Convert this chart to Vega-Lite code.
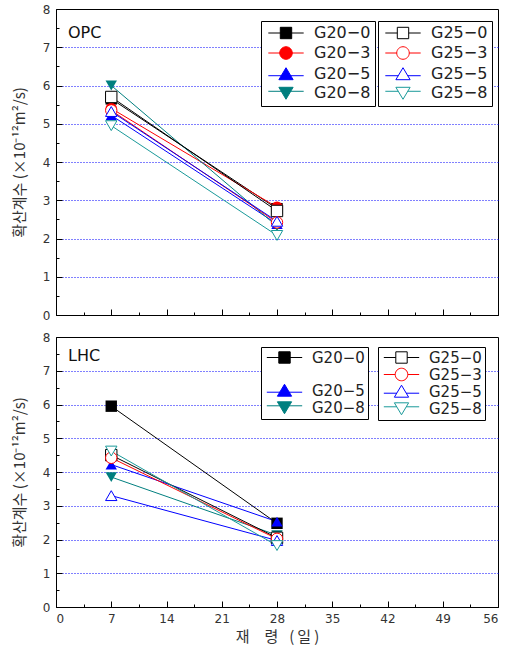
{
  "$schema": "https://vega.github.io/schema/vega-lite/v6.json",
  "background": "white",
  "padding": {"left": 11, "top": 2, "right": 5, "bottom": 4},
  "spacing": 8,
  "datasets": {
    "opc": [
      {"series": "G20-0", "day": 7, "value": 5.65}, {"series": "G20-0", "day": 28, "value": 2.78},
      {"series": "G20-3", "day": 7, "value": 5.4}, {"series": "G20-3", "day": 28, "value": 2.82},
      {"series": "G20-5", "day": 7, "value": 5.22}, {"series": "G20-5", "day": 28, "value": 2.38},
      {"series": "G20-8", "day": 7, "value": 6.0}, {"series": "G20-8", "day": 28, "value": 2.32},
      {"series": "G25-0", "day": 7, "value": 5.7}, {"series": "G25-0", "day": 28, "value": 2.72},
      {"series": "G25-3", "day": 7, "value": 5.35}, {"series": "G25-3", "day": 28, "value": 2.42},
      {"series": "G25-5", "day": 7, "value": 5.32}, {"series": "G25-5", "day": 28, "value": 2.45},
      {"series": "G25-8", "day": 7, "value": 4.95}, {"series": "G25-8", "day": 28, "value": 2.08}
    ],
    "lhc": [
      {"series": "G20-0", "day": 7, "value": 5.95}, {"series": "G20-0", "day": 28, "value": 2.48},
      {"series": "G20-5", "day": 7, "value": 4.22}, {"series": "G20-5", "day": 28, "value": 2.53},
      {"series": "G20-8", "day": 7, "value": 3.85}, {"series": "G20-8", "day": 28, "value": 2.13},
      {"series": "G25-0", "day": 7, "value": 4.5}, {"series": "G25-0", "day": 28, "value": 2.05},
      {"series": "G25-3", "day": 7, "value": 4.42}, {"series": "G25-3", "day": 28, "value": 2.02},
      {"series": "G25-5", "day": 7, "value": 3.3}, {"series": "G25-5", "day": 28, "value": 1.97},
      {"series": "G25-8", "day": 7, "value": 4.62}, {"series": "G25-8", "day": 28, "value": 1.82}
    ]
  },
  "vconcat": [
    {
      "width": 442,
      "height": 306,
      "data": {"name": "opc"},
      "title": {"text": "OPC", "anchor": "start", "frame": "group", "offset": -38, "dx": 12, "fontSize": 16, "fontWeight": "normal", "font": "DejaVu Sans", "color": "#111"},
      "layer": [
        {
          "mark": {"type": "line", "strokeWidth": 1},
          "encoding": {
            "x": {"field": "day", "type": "quantitative", "scale": {"domain": [0, 56], "nice": false},
              "axis": {"values": [0, 3.5, 7, 10.5, 14, 17.5, 21, 24.5, 28, 31.5, 35, 38.5, 42, 45.5, 49, 52.5, 56], "tickCount": 100, "labels": false, "title": null, "grid": false,
                "tickSize": {"condition": {"test": "datum.value % 7 != 0", "value": -3}, "value": -6}}},
            "y": {"field": "value", "type": "quantitative", "scale": {"domain": [0, 8], "nice": false},
              "axis": {"values": [0, 0.5, 1, 1.5, 2, 2.5, 3, 3.5, 4, 4.5, 5, 5.5, 6, 6.5, 7, 7.5, 8], "tickCount": 100,
                "labelExpr": "datum.value % 1 == 0 ? '' + datum.value : ''",
                "title": "확산계수 (×10⁻¹²m²/s)",
                "tickSize": {"condition": {"test": "datum.value % 1 != 0", "value": -3}, "value": -6},
                "grid": true,
                "gridOpacity": {"condition": {"test": "datum.value % 1 != 0 || datum.value == 0 || datum.value == 8", "value": 0}, "value": 1}}},
            "stroke": {"field": "series", "type": "nominal",
              "scale": {"domain": ["G20-0", "G20-3", "G20-5", "G20-8", "G25-0", "G25-3", "G25-5", "G25-8"],
                "range": ["#000000", "#ff0000", "#0000ff", "#007f7f", "#000000", "#ff0000", "#0000ff", "#1a9a9a"]},
              "legend": null},
            "detail": {"field": "series"}
          }
        },
        {
          "transform": [{"filter": "indexof(datum.series, 'G20') == 0"}],
          "mark": {"type": "point", "filled": true, "size": 130, "opacity": 1},
          "encoding": {
            "x": {"field": "day", "type": "quantitative"},
            "y": {"field": "value", "type": "quantitative"},
            "color": {"field": "series", "type": "nominal", "legend": null,
              "scale": {"domain": ["G20-0", "G20-3", "G20-5", "G20-8"], "range": ["#000000", "#ff0000", "#0000ff", "#007f7f"]}},
            "shape": {"field": "series", "type": "nominal", "legend": null,
              "scale": {"domain": ["G20-0", "G20-3", "G20-5", "G20-8"], "range": ["square", "circle", "triangle-up", "triangle-down"]}}
          }
        },
        {
          "transform": [{"filter": "indexof(datum.series, 'G25') == 0"}],
          "mark": {"type": "point", "filled": false, "fill": "white", "size": 130, "opacity": 1, "strokeWidth": 1},
          "encoding": {
            "x": {"field": "day", "type": "quantitative"},
            "y": {"field": "value", "type": "quantitative"},
            "color": {"field": "series", "type": "nominal", "legend": null,
              "scale": {"domain": ["G25-0", "G25-3", "G25-5", "G25-8"], "range": ["#000000", "#ff0000", "#0000ff", "#1a9a9a"]}},
            "shape": {"field": "series", "type": "nominal", "legend": null,
              "scale": {"domain": ["G25-0", "G25-3", "G25-5", "G25-8"], "range": ["square", "circle", "triangle-up", "triangle-down"]}}
          }
        },
        {
          "transform": [{"filter": "false"}],
          "mark": {"type": "point", "filled": true, "size": 130, "opacity": 1, "strokeWidth": 1},
          "encoding": {
            "x": {"field": "day", "type": "quantitative"},
            "y": {"field": "value", "type": "quantitative"},
            "color": {"field": "series", "type": "nominal",
              "scale": {"domain": ["G20-0", "G20-3", "G20-5", "G20-8"], "range": ["#000000", "#ff0000", "#0000ff", "#007f7f"]},
              "legend": {"orient": "none", "legendX": 205, "legendY": 12, "title": null, "direction": "vertical",
                "symbolSize": 130, "symbolStrokeWidth": 1, "symbolOffset": 13, "labelOffset": 20, "labelFontSize": 16, "labelFont": "DejaVu Sans", "labelColor": "#222",
                "padding": 4, "rowPadding": 3, "strokeColor": "black", "fillColor": "white", "cornerRadius": 0,
                "labelExpr": "replace(datum.label, '-', '−')"}},
            "stroke": {"field": "series", "type": "nominal",
              "scale": {"domain": ["G20-0", "G20-3", "G20-5", "G20-8"], "range": ["#000000", "#ff0000", "#0000ff", "#007f7f"]}},
            "shape": {"field": "series", "type": "nominal",
              "scale": {"domain": ["G20-0", "G20-3", "G20-5", "G20-8"],
                "range": ["M-3.1,0H3.1M-1,-1H1V1H-1Z", "M-3.1,0H3.1M1.1,0A1.1,1.1 0 1,1 -1.1,0A1.1,1.1 0 1,1 1.1,0Z", "M-3.1,0.3H3.1M0,-1.1L1.25,1H-1.25Z", "M-3.1,-0.3H3.1M0,1.1L1.25,-1H-1.25Z"]}}
          }
        },
        {
          "transform": [{"filter": "false"}],
          "mark": {"type": "point", "filled": false, "fill": "white", "size": 130, "opacity": 1, "strokeWidth": 1},
          "encoding": {
            "x": {"field": "day", "type": "quantitative"},
            "y": {"field": "value", "type": "quantitative"},
            "color": {"field": "series", "type": "nominal",
              "scale": {"domain": ["G25-0", "G25-3", "G25-5", "G25-8"], "range": ["#000000", "#ff0000", "#0000ff", "#1a9a9a"]},
              "legend": {"orient": "none", "legendX": 322, "legendY": 12, "title": null, "direction": "vertical",
                "symbolSize": 130, "symbolStrokeWidth": 1, "symbolOffset": 13, "labelOffset": 20, "labelFontSize": 16, "labelFont": "DejaVu Sans", "labelColor": "#222",
                "padding": 4, "rowPadding": 3, "strokeColor": "black", "fillColor": "white", "cornerRadius": 0,
                "labelExpr": "replace(datum.label, '-', '−')"}},
            "shape": {"field": "series", "type": "nominal",
              "scale": {"domain": ["G25-0", "G25-3", "G25-5", "G25-8"],
                "range": ["M-3.1,0H-1M1,0H3.1M-1,-1H1V1H-1Z", "M-3.1,0H-1.1M1.1,0H3.1M1.1,0A1.1,1.1 0 1,1 -1.1,0A1.1,1.1 0 1,1 1.1,0Z", "M-3.1,0.3H-0.83M0.83,0.3H3.1M0,-1.1L1.25,1H-1.25Z", "M-3.1,-0.3H-0.83M0.83,-0.3H3.1M0,1.1L1.25,-1H-1.25Z"]}}
          }
        }
      ],
      "resolve": {"scale": {"color": "independent", "shape": "independent", "stroke": "independent"}}
    },
    {
      "width": 442,
      "height": 270,
      "data": {"name": "lhc"},
      "title": {"text": "LHC", "anchor": "start", "frame": "group", "offset": -33, "dx": 12, "fontSize": 16, "fontWeight": "normal", "font": "DejaVu Sans", "color": "#111"},
      "layer": [
        {
          "mark": {"type": "line", "strokeWidth": 1},
          "encoding": {
            "x": {"field": "day", "type": "quantitative", "scale": {"domain": [0, 56], "nice": false},
              "axis": {"values": [0, 3.5, 7, 10.5, 14, 17.5, 21, 24.5, 28, 31.5, 35, 38.5, 42, 45.5, 49, 52.5, 56], "tickCount": 100,
                "labelExpr": "datum.value % 7 == 0 ? '' + datum.value : ''",
                "title": "재\u2003령\u2002 (\u2009일\u2009)", "grid": false,
                "tickSize": {"condition": {"test": "datum.value % 7 != 0", "value": -3}, "value": -6}}},
            "y": {"field": "value", "type": "quantitative", "scale": {"domain": [0, 8], "nice": false},
              "axis": {"values": [0, 0.5, 1, 1.5, 2, 2.5, 3, 3.5, 4, 4.5, 5, 5.5, 6, 6.5, 7, 7.5, 8], "tickCount": 100,
                "labelExpr": "datum.value % 1 == 0 ? '' + datum.value : ''",
                "title": "확산계수 (×10⁻¹²m²/s)",
                "tickSize": {"condition": {"test": "datum.value % 1 != 0", "value": -3}, "value": -6},
                "grid": true,
                "gridOpacity": {"condition": {"test": "datum.value % 1 != 0 || datum.value == 0 || datum.value == 8", "value": 0}, "value": 1}}},
            "stroke": {"field": "series", "type": "nominal",
              "scale": {"domain": ["G20-0", "G20-3", "G20-5", "G20-8", "G25-0", "G25-3", "G25-5", "G25-8"],
                "range": ["#000000", "#ff0000", "#0000ff", "#007f7f", "#000000", "#ff0000", "#0000ff", "#1a9a9a"]},
              "legend": null},
            "detail": {"field": "series"}
          }
        },
        {
          "transform": [{"filter": "indexof(datum.series, 'G20') == 0"}],
          "mark": {"type": "point", "filled": true, "size": 130, "opacity": 1},
          "encoding": {
            "x": {"field": "day", "type": "quantitative"},
            "y": {"field": "value", "type": "quantitative"},
            "color": {"field": "series", "type": "nominal", "legend": null,
              "scale": {"domain": ["G20-0", "G20-5", "G20-8"], "range": ["#000000", "#0000ff", "#007f7f"]}},
            "shape": {"field": "series", "type": "nominal", "legend": null,
              "scale": {"domain": ["G20-0", "G20-5", "G20-8"], "range": ["square", "triangle-up", "triangle-down"]}}
          }
        },
        {
          "transform": [{"filter": "indexof(datum.series, 'G25') == 0"}],
          "mark": {"type": "point", "filled": false, "fill": "white", "size": 130, "opacity": 1, "strokeWidth": 1},
          "encoding": {
            "x": {"field": "day", "type": "quantitative"},
            "y": {"field": "value", "type": "quantitative"},
            "color": {"field": "series", "type": "nominal", "legend": null,
              "scale": {"domain": ["G25-0", "G25-3", "G25-5", "G25-8"], "range": ["#000000", "#ff0000", "#0000ff", "#1a9a9a"]}},
            "shape": {"field": "series", "type": "nominal", "legend": null,
              "scale": {"domain": ["G25-0", "G25-3", "G25-5", "G25-8"], "range": ["square", "circle", "triangle-up", "triangle-down"]}}
          }
        },
        {
          "transform": [{"filter": "false"}],
          "mark": {"type": "point", "filled": true, "size": 130, "opacity": 1, "strokeWidth": 1},
          "encoding": {
            "x": {"field": "day", "type": "quantitative"},
            "y": {"field": "value", "type": "quantitative"},
            "color": {"field": "series", "type": "nominal",
              "scale": {"domain": ["G20-0", "G20-3", "G20-5", "G20-8"], "range": ["#000000", "transparent", "#0000ff", "#007f7f"]},
              "legend": {"orient": "none", "legendX": 205, "legendY": 10, "title": null, "direction": "vertical",
                "symbolSize": 130, "symbolStrokeWidth": 1, "symbolOffset": 13, "labelOffset": 20, "labelFontSize": 15, "labelFont": "DejaVu Sans", "labelColor": "#222",
                "padding": 3, "rowPadding": 0, "strokeColor": "black", "fillColor": "white", "cornerRadius": 0,
                "labelExpr": "datum.value == 'G20-3' ? '' : replace(datum.label, '-', '−')"}},
            "stroke": {"field": "series", "type": "nominal",
              "scale": {"domain": ["G20-0", "G20-3", "G20-5", "G20-8"], "range": ["#000000", "transparent", "#0000ff", "#007f7f"]}},
            "shape": {"field": "series", "type": "nominal",
              "scale": {"domain": ["G20-0", "G20-3", "G20-5", "G20-8"],
                "range": ["M-3.1,0H3.1M-1,-1H1V1H-1Z", "M0,0H0.01", "M-3.1,0.3H3.1M0,-1.1L1.25,1H-1.25Z", "M-3.1,-0.3H3.1M0,1.1L1.25,-1H-1.25Z"]}}
          }
        },
        {
          "transform": [{"filter": "false"}],
          "mark": {"type": "point", "filled": false, "fill": "white", "size": 130, "opacity": 1, "strokeWidth": 1},
          "encoding": {
            "x": {"field": "day", "type": "quantitative"},
            "y": {"field": "value", "type": "quantitative"},
            "color": {"field": "series", "type": "nominal",
              "scale": {"domain": ["G25-0", "G25-3", "G25-5", "G25-8"], "range": ["#000000", "#ff0000", "#0000ff", "#1a9a9a"]},
              "legend": {"orient": "none", "legendX": 322, "legendY": 10, "title": null, "direction": "vertical",
                "symbolSize": 130, "symbolStrokeWidth": 1, "symbolOffset": 13, "labelOffset": 20, "labelFontSize": 15, "labelFont": "DejaVu Sans", "labelColor": "#222",
                "padding": 3, "rowPadding": 0, "strokeColor": "black", "fillColor": "white", "cornerRadius": 0,
                "labelExpr": "replace(datum.label, '-', '−')"}},
            "shape": {"field": "series", "type": "nominal",
              "scale": {"domain": ["G25-0", "G25-3", "G25-5", "G25-8"],
                "range": ["M-3.1,0H-1M1,0H3.1M-1,-1H1V1H-1Z", "M-3.1,0H-1.1M1.1,0H3.1M1.1,0A1.1,1.1 0 1,1 -1.1,0A1.1,1.1 0 1,1 1.1,0Z", "M-3.1,0.3H-0.83M0.83,0.3H3.1M0,-1.1L1.25,1H-1.25Z", "M-3.1,-0.3H-0.83M0.83,-0.3H3.1M0,1.1L1.25,-1H-1.25Z"]}}
          }
        }
      ],
      "resolve": {"scale": {"color": "independent", "shape": "independent", "stroke": "independent"}}
    }
  ],
  "config": {
    "view": {"stroke": "#000000", "strokeWidth": 1},
    "axis": {
      "domainColor": "#000000", "tickColor": "#000000", "tickWidth": 1, "labelOverlap": false,
      "labelFont": "DejaVu Sans", "labelFontSize": 12, "labelColor": "#333333", "labelPadding": 12,
      "titleFont": "Noto Sans CJK KR", "titleFontSize": 15, "titleFontWeight": "normal", "titleColor": "#333333",
      "gridColor": "#0000ff", "gridDash": [1, 2], "gridWidth": 1
    },
    "axisY": {"titlePadding": 15},
    "axisX": {"titlePadding": 2}
  }
}
